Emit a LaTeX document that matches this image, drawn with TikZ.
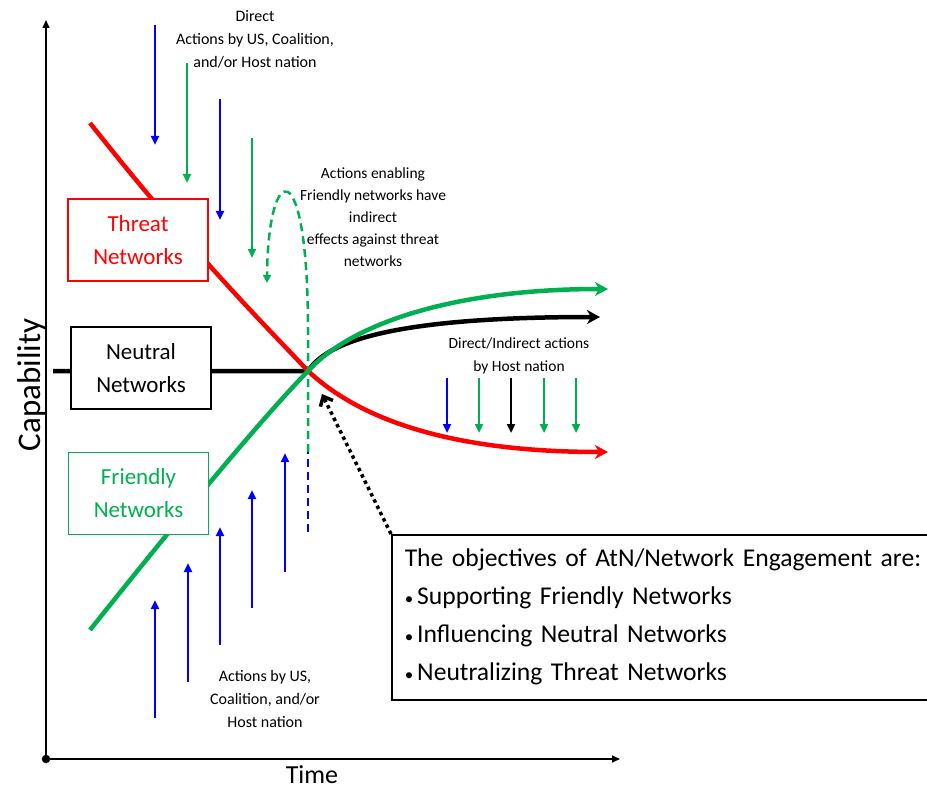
\documentclass[tikz,border=0pt]{standalone}
\usepackage{fontspec}
\setmainfont{Carlito}
\usetikzlibrary{arrows.meta}
\definecolor{netred}{RGB}{255,0,0}
\definecolor{netgreen}{RGB}{0,176,80}
\definecolor{netblue}{RGB}{0,0,255}
\newcommand{\goalpt}{{\fontsize{17}{17}\selectfont\textbullet}\hspace{4pt}}
\begin{document}
\begin{tikzpicture}[x=1pt, y=-1pt,
    netbox/.style={draw, line width=1.5pt, fill=white, minimum width=140pt, minimum height=82pt, inner sep=0pt, align=center, font=\fontsize{23}{33}\selectfont},
    note/.style={align=center, inner sep=0pt, font=\fontsize{16}{23}\selectfont},
    trend/.style={line width=4.5pt, -{Stealth[length=13pt, width=14pt, inset=4pt]}},
    act/.style={line width=2.5pt, -{Triangle[length=9pt, width=8pt]}},
    dashgo/.style={line width=2.5pt, dash pattern=on 8pt off 5pt}]
    \useasboundingbox (0,0) rectangle (927,789);
    \coordinate (O) at (46,759);
    \coordinate (ytop) at (46,20);
    \coordinate (xend) at (620,759);
    \coordinate (cross) at (308,371);
    \coordinate (gsplit) at (308,452);
    \coordinate (bfoot) at (308,532);
    \coordinate (dashland) at (267,283);
    \coordinate (focus) at (322,394);
    \draw[line width=1.5pt, -{Triangle[length=8pt, width=7pt]}] (O) -- (ytop);
    \draw[line width=1.5pt, -{Triangle[length=8pt, width=7pt]}] (O) -- (xend);
    \draw[fill=black] (O) circle (4pt);
    \node[rotate=90, inner sep=0pt, font=\fontsize{33}{40}\selectfont] (captxt) at (32,385) {Capability};
    \node[anchor=base, inner sep=0pt, font=\fontsize{26}{30}\selectfont] (timetxt) at (312,783) {Time};
    \draw[trend] (53,371) -- (cross) .. controls (325,345) and (380,317) .. (600,317);
    \draw[trend, netred] (90,123) .. controls (200,262) and (270,330) .. (cross) .. controls (350,410) and (430,452) .. (608,452);
    \draw[trend, netgreen] (90,630) .. controls (200,492) and (270,410) .. (cross) .. controls (350,325) and (450,289) .. (608,289);
    \draw[dashgo, netblue] (bfoot) -- (gsplit);
    \draw[dashgo, netgreen, -{Triangle[length=8pt, width=8pt]}] (gsplit) -- (308,330) .. controls (308,150) and (268,160) .. (dashland);
    \foreach \x/\ya/\yb/\c in {155/25/145/netblue, 187/63/183/netgreen, 220/99/220/netblue, 252/138/258/netgreen}
        \draw[act, \c] (\x,\ya) -- (\x,\yb);
    \foreach \x/\ya/\yb in {155/718/600, 188/682/563, 220/645/527, 252/608/490, 285/572/453}
        \draw[act, netblue] (\x,\ya) -- (\x,\yb);
    \foreach \x/\c in {447/netblue, 479/netgreen, 511/black, 544/netgreen, 576/netgreen}
        \draw[act, \c] (\x,378) -- (\x,433);
    \node[netbox, draw=netred, text=netred] (threat) at (138,240) {Threat\\Networks};
    \node[netbox] (neutral) at (141,368) {Neutral\\Networks};
    \node[netbox, draw=netgreen, text=netgreen] (friendly) at (138.5,493.5) {Friendly\\Networks};
    \node[note] (topnote) at (255,39) {Direct\\Actions by US, Coalition,\\and/or Host nation};
    \node[note, font=\fontsize{15.5}{22}\selectfont] (enablenote) at (373,217) {Actions enabling\\Friendly networks have\\indirect\\effects against threat\\networks};
    \node[note, font=\fontsize{15.5}{23}\selectfont] (hostnote) at (519,356) {Direct/Indirect actions\\by Host nation};
    \node[note] (bottomnote) at (265,699) {Actions by US,\\Coalition, and/or\\Host nation};
    \node[draw, line width=1.5pt, anchor=north west, minimum height=165pt, text width=530pt, inner xsep=13pt, align=left, font=\fontsize{25.6}{38}\selectfont] (goals) at (391,534) {The objectives of AtN/Network Engagement are:\\\goalpt Supporting Friendly Networks\\\goalpt Influencing Neutral Networks\\\goalpt Neutralizing Threat Networks};
    \draw[line width=3.5pt, dash pattern=on 3.5pt off 3.5pt, -{Straight Barb[length=8pt, width=14pt]}] (goals.north west) -- (focus);
\end{tikzpicture}
\end{document}
